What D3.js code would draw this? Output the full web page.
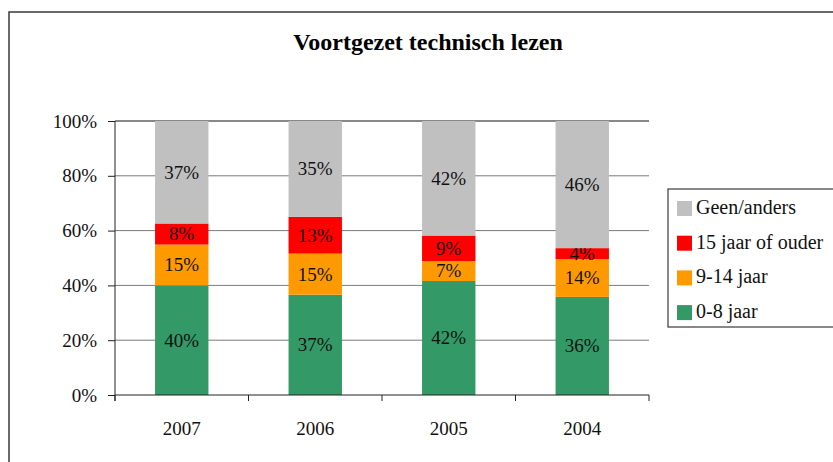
<!DOCTYPE html>
<html>
<head>
<meta charset="utf-8">
<script src="https://cdn.jsdelivr.net/npm/d3@7"></script>
<style>
  html, body { margin: 0; padding: 0; background: #fff; }
  svg { display: block; font-family: "Liberation Serif", "Times New Roman", serif; }
</style>
</head>
<body>
<svg id="chart" width="833" height="462"></svg>
<script>
// Gegevens
const years = ["2007", "2006", "2005", "2004"];
const groep08 = [40.0, 36.6, 41.6, 35.8];
const groep914 = [14.9, 15.0, 7.3, 13.8];
const groep15 = [7.7, 13.4, 9.3, 4.0];
const geenAnders = [37.4, 35.0, 41.8, 46.4];

const seriesKeys = ["0-8 jaar", "9-14 jaar", "15 jaar of ouder", "Geen/anders"];
const seriesColors = ["#339966", "#ff9900", "#ff0000", "#c0c0c0"];
const yTicks = [0, 0.2, 0.4, 0.6, 0.8, 1];

const rows = years.map((y, i) => ({
  year: y,
  "0-8 jaar": groep08[i] / 100,
  "9-14 jaar": groep914[i] / 100,
  "15 jaar of ouder": groep15[i] / 100,
  "Geen/anders": geenAnders[i] / 100
}));

const plot = { left: 115, right: 649, top: 121, bottom: 395 };

const svg = d3.select("#chart");

// Kader rond de grafiek
svg.append("rect")
  .attr("x", 9).attr("y", 12)
  .attr("width", 900).attr("height", 500)
  .attr("fill", "none").attr("stroke", "#3a3a3a").attr("stroke-width", 1.5);

// Titel
svg.append("text")
  .attr("x", 428).attr("y", 50)
  .attr("text-anchor", "middle")
  .style("font-size", "24px").style("font-weight", "bold")
  .text("Voortgezet technisch lezen");

const x = d3.scaleBand()
  .domain(years)
  .range([plot.left, plot.right])
  .paddingInner(0.6)
  .paddingOuter(0.3);

const y = d3.scaleLinear()
  .domain([0, 1])
  .range([plot.bottom, plot.top]);

const fmt = d3.format(".0%");

// Rasterlijnen
svg.append("g").selectAll("line")
  .data(yTicks.filter(t => t > 0))
  .enter().append("line")
  .attr("x1", plot.left).attr("x2", plot.right)
  .attr("y1", d => y(d)).attr("y2", d => y(d))
  .attr("stroke", d => d === 1 ? "#111" : "#7a7a7a")
  .attr("stroke-width", 1);

// Gestapelde staven
const stacked = d3.stack().keys(seriesKeys)(rows);

const layers = svg.append("g").selectAll("g")
  .data(stacked)
  .enter().append("g")
  .attr("fill", (d, i) => seriesColors[i]);

layers.selectAll("rect")
  .data(d => d)
  .enter().append("rect")
  .attr("x", d => x(d.data.year))
  .attr("width", x.bandwidth())
  .attr("y", d => y(d[1]))
  .attr("height", d => y(d[0]) - y(d[1]));

// Labels in de staven
layers.selectAll("text")
  .data(d => d)
  .enter().append("text")
  .attr("x", d => x(d.data.year) + x.bandwidth() / 2)
  .attr("y", d => (y(d[0]) + y(d[1])) / 2)
  .attr("dy", "0.34em")
  .attr("text-anchor", "middle")
  .attr("fill", "#111")
  .style("font-size", "19px")
  .text(d => fmt(d[1] - d[0]));

// Y-as
const yAxis = svg.append("g")
  .attr("transform", `translate(${plot.left},0)`)
  .call(d3.axisLeft(y).tickValues(yTicks).tickFormat(fmt).tickSize(7).tickPadding(11));
yAxis.attr("font-family", null).attr("font-size", null);
yAxis.select(".domain").remove();
yAxis.selectAll(".tick line").attr("stroke", "#222");
yAxis.selectAll(".tick text")
  .attr("fill", "#111")
  .style("font-size", "19px");

svg.append("line")
  .attr("x1", plot.left).attr("x2", plot.left)
  .attr("y1", plot.top).attr("y2", plot.bottom + 6)
  .attr("stroke", "#222");

// X-as
svg.append("line")
  .attr("x1", plot.left).attr("x2", plot.right)
  .attr("y1", plot.bottom).attr("y2", plot.bottom)
  .attr("stroke", "#222");

const bounds = d3.range(years.length + 1).map(i => plot.left + i * x.step());
svg.append("g").selectAll("line")
  .data(bounds)
  .enter().append("line")
  .attr("x1", d => d).attr("x2", d => d)
  .attr("y1", plot.bottom).attr("y2", plot.bottom + 6)
  .attr("stroke", "#222");

svg.append("g").selectAll("text")
  .data(years)
  .enter().append("text")
  .attr("x", d => x(d) + x.bandwidth() / 2)
  .attr("y", 435)
  .attr("text-anchor", "middle")
  .attr("fill", "#111")
  .style("font-size", "19px")
  .text(d => d);

// Legenda
const leg = svg.append("g");
leg.append("rect")
  .attr("x", 668).attr("y", 189)
  .attr("width", 200).attr("height", 138)
  .attr("fill", "#fff").attr("stroke", "#3a3a3a").attr("stroke-width", 1.2);

const legItems = seriesKeys.map((k, i) => ({ key: k, color: seriesColors[i] })).reverse();
const legRow = leg.selectAll("g.leg-item")
  .data(legItems)
  .enter().append("g")
  .attr("class", "leg-item")
  .attr("transform", (d, i) => `translate(677, ${201 + i * 34.7})`);

legRow.append("rect")
  .attr("width", 15).attr("height", 15)
  .attr("fill", d => d.color);

legRow.append("text")
  .attr("x", 19).attr("y", 13)
  .attr("fill", "#111")
  .style("font-size", "20px")
  .text(d => d.key);
</script>
</body>
</html>
